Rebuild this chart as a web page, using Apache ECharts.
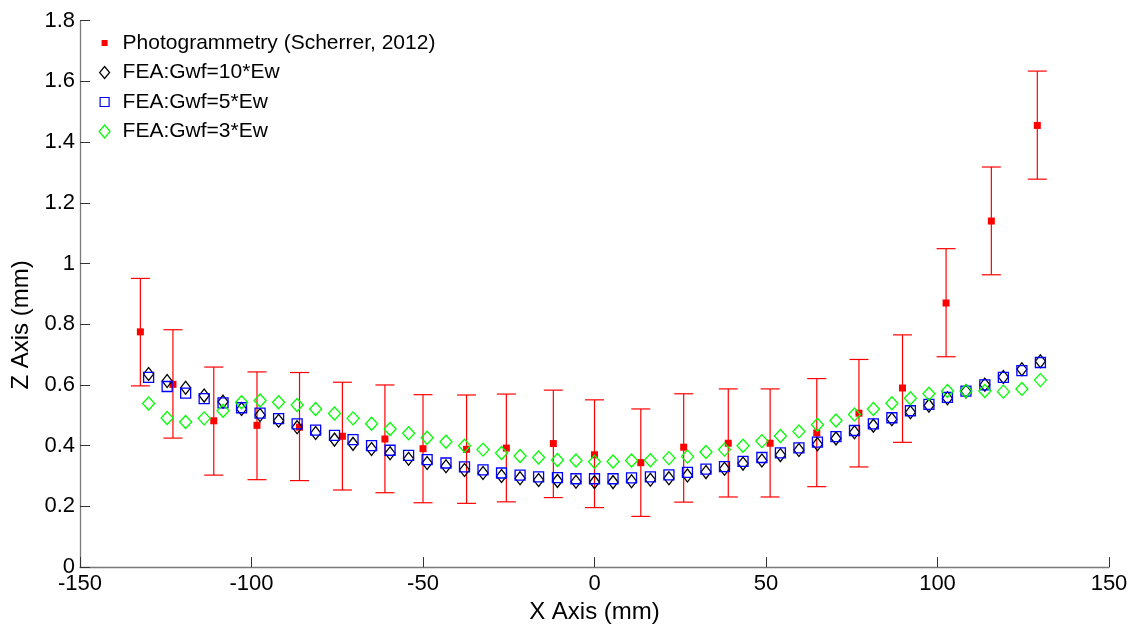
<!DOCTYPE html>
<html>
<head>
<meta charset="utf-8">
<script src="https://cdn.jsdelivr.net/npm/echarts@6/dist/echarts.min.js"></script>
<style>
html,body{margin:0;padding:0;background:#fff;}
#chart{width:1142px;height:629px;}
</style>
</head>
<body>
<div id="chart"></div>
<script>
// ---- data ----
var feaX = [-130, -124.6, -119.2, -113.8, -108.3, -102.9, -97.5, -92.1, -86.7, -81.3, -75.8, -70.4, -65,
  -59.6, -54.2, -48.8, -43.3, -37.9, -32.5, -27.1, -21.7, -16.3, -10.8, -5.4, 0, 5.4, 10.8, 16.3, 21.7,
  27.1, 32.5, 37.9, 43.3, 48.8, 54.2, 59.6, 65, 70.4, 75.8, 81.3, 86.7, 92.1, 97.5, 102.9, 108.3, 113.8,
  119.2, 124.6, 130];
var gwf10 = [0.636, 0.613, 0.591, 0.565, 0.545, 0.521, 0.501, 0.482, 0.461, 0.442, 0.420, 0.406, 0.389,
  0.375, 0.357, 0.343, 0.332, 0.320, 0.310, 0.300, 0.293, 0.287, 0.284, 0.281, 0.280, 0.280, 0.283, 0.288,
  0.293, 0.302, 0.313, 0.324, 0.341, 0.351, 0.369, 0.386, 0.405, 0.424, 0.444, 0.466, 0.487, 0.510, 0.532,
  0.556, 0.579, 0.601, 0.626, 0.652, 0.678];
var gwf5 = [0.625, 0.595, 0.573, 0.555, 0.541, 0.525, 0.507, 0.489, 0.472, 0.451, 0.434, 0.420, 0.400,
  0.385, 0.368, 0.354, 0.343, 0.330, 0.320, 0.310, 0.303, 0.297, 0.295, 0.291, 0.291, 0.291, 0.294, 0.297,
  0.304, 0.312, 0.323, 0.331, 0.348, 0.361, 0.376, 0.393, 0.412, 0.430, 0.450, 0.472, 0.492, 0.515, 0.536,
  0.559, 0.580, 0.600, 0.625, 0.647, 0.674];
var gwf3 = [0.539, 0.491, 0.478, 0.490, 0.515, 0.543, 0.549, 0.543, 0.534, 0.521, 0.506, 0.490, 0.472,
  0.455, 0.441, 0.426, 0.413, 0.400, 0.387, 0.376, 0.366, 0.361, 0.353, 0.351, 0.347, 0.348, 0.351, 0.352,
  0.359, 0.364, 0.379, 0.387, 0.400, 0.415, 0.432, 0.447, 0.469, 0.483, 0.503, 0.521, 0.540, 0.556, 0.571,
  0.580, 0.580, 0.580, 0.578, 0.587, 0.616];
var photoX = [-132.4, -122.9, -111.0, -98.4, -86.0, -73.5, -61.1, -50.0, -37.3, -25.7, -12.0, 0, 13.5,
  26.0, 39.0, 51.2, 64.8, 77.1, 89.8, 102.5, 115.7, 129.1];
var photoY = [0.775, 0.602, 0.482, 0.467, 0.461, 0.431, 0.422, 0.390, 0.388, 0.392, 0.407, 0.370, 0.344,
  0.395, 0.408, 0.408, 0.442, 0.507, 0.590, 0.870, 1.140, 1.455];
var photoHigh = [0.951, 0.782, 0.659, 0.643, 0.641, 0.609, 0.600, 0.568, 0.567, 0.570, 0.583, 0.551, 0.521,
  0.571, 0.587, 0.587, 0.621, 0.684, 0.765, 1.049, 1.318, 1.634];
var photoLow = [0.597, 0.425, 0.303, 0.288, 0.285, 0.254, 0.245, 0.212, 0.210, 0.215, 0.229, 0.196, 0.167,
  0.214, 0.231, 0.231, 0.265, 0.330, 0.411, 0.693, 0.963, 1.278];
var seriesNames = ['Photogrammetry (Scherrer, 2012)', 'FEA:Gwf=10*Ew', 'FEA:Gwf=5*Ew', 'FEA:Gwf=3*Ew'];

function pairs(xs, ys) { return xs.map(function (x, i) { return [x, ys[i]]; }); }

var FONT = 'Liberation Sans, Arial, sans-serif';
var chart = echarts.init(document.getElementById('chart'), null, { renderer: 'canvas' });

var errData = photoX.map(function (x, i) { return [x, photoLow[i], photoHigh[i]]; });

var option = {
  animation: false,
  backgroundColor: '#fff',
  grid: { left: 80, right: 33, top: 20.7, bottom: 59.5, containLabel: false },
  legend: {
    left: 98, top: 32.5, orient: 'vertical', padding: 0,
    itemWidth: 12, itemHeight: 14, itemGap: 8.5,
    textStyle: { fontFamily: FONT, fontSize: 21, color: '#000', lineHeight: 20, padding: [0, 0, 0, 7] },
    data: [
      { name: seriesNames[0], icon: 'path://M0,0M3,4h6v6h-6zM12,14',
        itemStyle: { color: '#ff0000', borderWidth: 0 } },
      { name: seriesNames[1], icon: 'path://M0,0M6,1L11,7L6,13L1,7ZM12,14',
        itemStyle: { color: 'rgba(0,0,0,0)', borderColor: '#000', borderWidth: 1.2 } },
      { name: seriesNames[2], icon: 'path://M0,0M1.5,2.5h9v9h-9zM12,14',
        itemStyle: { color: 'rgba(0,0,0,0)', borderColor: '#0000ff', borderWidth: 1.2 } },
      { name: seriesNames[3], icon: 'path://M0,0M6,0.5L11.5,7L6,13.5L0.5,7ZM12,14',
        itemStyle: { color: 'rgba(0,0,0,0)', borderColor: '#00ff00', borderWidth: 1.2 } }
    ]
  },
  xAxis: {
    type: 'value', min: -150, max: 150, interval: 50,
    name: 'X Axis (mm)', nameLocation: 'middle', nameGap: 28,
    nameTextStyle: { fontFamily: FONT, fontSize: 24, color: '#000' },
    axisLine: { show: true, onZero: false, lineStyle: { color: '#7a7a7a', width: 1.3 } },
    axisTick: { show: true, inside: true, length: 10, lineStyle: { color: '#333', width: 1 } },
    axisLabel: { fontFamily: FONT, fontSize: 22, color: '#000', margin: 6 },
    splitLine: { show: false }
  },
  yAxis: {
    type: 'value', min: 0, max: 1.8, interval: 0.2,
    name: 'Z Axis (mm)', nameLocation: 'middle', nameGap: 42, nameRotate: 90,
    nameTextStyle: { fontFamily: FONT, fontSize: 24, color: '#000', padding: [0, 62, 0, 0] },
    axisLine: { show: true, onZero: false, lineStyle: { color: '#7a7a7a', width: 1.3 } },
    axisTick: { show: true, inside: true, length: 10, lineStyle: { color: '#333', width: 1 } },
    axisLabel: { fontFamily: FONT, fontSize: 22, color: '#000', margin: 5 },
    splitLine: { show: false }
  },
  series: [
    {
      type: 'custom', name: 'errorbars', silent: true, z: 2,
      data: errData,
      encode: { x: 0, y: [1, 2] },
      renderItem: function (params, api) {
        var x = api.value(0);
        var top = api.coord([x, api.value(2)]);
        var bot = api.coord([x, api.value(1)]);
        var hw = 9.5;
        var st = { stroke: '#ff0000', lineWidth: 1.2 };
        return {
          type: 'group',
          children: [
            { type: 'line', shape: { x1: top[0], y1: top[1], x2: bot[0], y2: bot[1] }, style: st },
            { type: 'line', shape: { x1: top[0] - hw, y1: top[1], x2: top[0] + hw, y2: top[1] }, style: st },
            { type: 'line', shape: { x1: bot[0] - hw, y1: bot[1], x2: bot[0] + hw, y2: bot[1] }, style: st }
          ]
        };
      }
    },
    {
      type: 'scatter', name: seriesNames[0], z: 3,
      symbol: 'rect', symbolSize: 7,
      itemStyle: { color: '#ff0000', opacity: 1 },
      data: pairs(photoX, photoY)
    },
    {
      type: 'scatter', name: seriesNames[1], z: 4,
      symbol: 'diamond', symbolSize: [10, 13],
      itemStyle: { color: 'rgba(0,0,0,0)', borderColor: '#000', borderWidth: 1.3, opacity: 1 },
      data: pairs(feaX, gwf10)
    },
    {
      type: 'scatter', name: seriesNames[2], z: 5,
      symbol: 'rect', symbolSize: 10,
      itemStyle: { color: 'rgba(0,0,0,0)', borderColor: '#0000ff', borderWidth: 1.3, opacity: 1 },
      data: pairs(feaX, gwf5)
    },
    {
      type: 'scatter', name: seriesNames[3], z: 6,
      symbol: 'diamond', symbolSize: [12, 13],
      itemStyle: { color: 'rgba(0,0,0,0)', borderColor: '#00ff00', borderWidth: 1.3, opacity: 1 },
      data: pairs(feaX, gwf3)
    }
  ]
};
chart.setOption(option);
</script>
</body>
</html>
